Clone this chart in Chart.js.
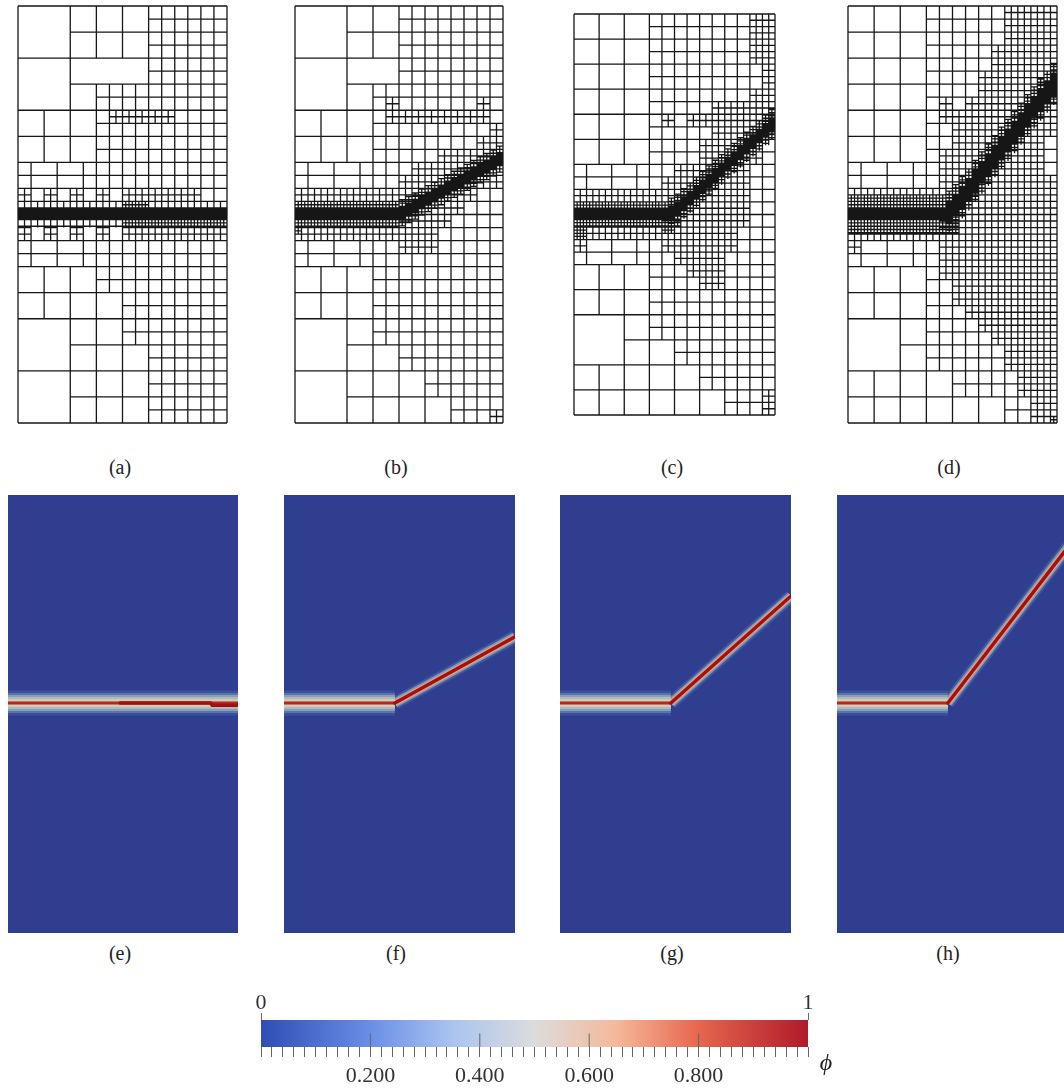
<!DOCTYPE html>
<html>
<head>
<meta charset="utf-8">
<title>Crack phase field meshes</title>
<script src="https://cdn.jsdelivr.net/npm/chart.js@4"></script>
<style>
html, body { margin: 0; padding: 0; background: #fff; }
#page { position: relative; width: 1064px; height: 1091px; overflow: hidden; }
canvas { position: absolute; }
canvas.mesh { filter: blur(0.45px); }
canvas.field { filter: blur(0.7px); }
.cap { position: absolute; font: 20px "Liberation Serif", serif; color: #222; transform: translate(-50%, -50%); }
</style>
</head>
<body>
<div id="page"></div>
<script>
// mesh line families, units are coarse cells: [x0, y0, x1, y1, dx, dy] (dx or dy = 0 means no lines that way)
const meshCommonLeft = [
    [0, 0, 8, 16, 8, 16],
    [0, 2, 8, 2, 0, 1], [0, 4, 8, 4, 0, 1],
    [0, 6, 3, 7, 0, 0.5], [0.5, 6, 2.5, 7, 1, 0],
    [0, 9, 3, 10, 0, 0.5], [0.5, 9, 2.5, 10, 1, 0],
    [0, 10, 3, 12, 1, 1]
];

const meshA = [
    [2, 0, 2, 6, 1, 0], [2, 1, 5, 1, 0, 1], [3, 0, 3, 2, 1, 0], [4, 0, 4, 2, 1, 0], [5, 0, 5, 3, 1, 0],
    [2, 3, 8, 3, 0, 1], [1, 4, 1, 6, 1, 0], [0, 5, 3, 5, 0, 1],
    [5, 0, 8, 6, 0.5, 0.5], [3, 3, 5, 6, 0.5, 0.5], [3.5, 4, 6, 4.5, 0.25, 0.25],
    [3, 6, 8, 7, 0.5, 0.5],
    [0, 7, 0.5, 7.5, 0.25, 0.25], [1, 7, 1.5, 7.5, 0.25, 0.25], [2, 7, 2.5, 7.5, 0.25, 0.25], [3, 7, 3.5, 7.5, 0.25, 0.25],
    [4, 7, 7, 7.5, 0.25, 0.25], [7, 7, 8, 7.5, 0.5, 0.5],
    [0, 7.5, 8, 7.8, 0.25, 0.25], [4, 7.5, 5, 7.75, 0.125, 0.125],
    [0, 7.8, 8, 8.2, 0.03125, 0.03125],
    [0, 8.2, 4, 8.5, 0.25, 0.25], [4, 8.2, 8, 8.5, 0.125, 0.125],
    [0, 8.5, 0.5, 9, 0.25, 0.25], [1, 8.5, 1.5, 9, 0.25, 0.25], [2, 8.5, 2.5, 9, 0.25, 0.25], [3, 8.5, 3.5, 9, 0.25, 0.25],
    [4, 8.5, 8, 9, 0.25, 0.25],
    [3, 9, 8, 10, 0.5, 0.5], [3, 10, 5, 11, 0.5, 0.5], [5, 10, 8, 11, 0.5, 0.5], [4, 11, 8, 13, 0.5, 0.5],
    [0, 12, 8, 12, 0, 1], [2, 12, 2, 16, 1, 0], [3, 12, 3, 16, 1, 0], [4, 12, 4, 16, 1, 0], [5, 13, 5, 16, 1, 0],
    [2, 13, 8, 13, 0, 1], [0, 14, 5, 14, 0, 1], [2, 15, 8, 15, 0, 1],
    [5, 13, 8, 16, 0.5, 0.5]
];

const meshB = [
    [2, 0, 2, 6, 1, 0], [2, 1, 4, 1, 0, 1], [3, 0, 3, 2, 1, 0], [4, 0, 4, 3, 1, 0],
    [2, 3, 8, 3, 0, 1], [1, 4, 1, 6, 1, 0], [0, 5, 3, 5, 0, 1],
    [4, 0, 8, 6, 0.5, 0.5], [3, 3, 4, 6, 0.5, 0.5],
    [3.5, 3.5, 4, 4, 0.25, 0.25], [3.5, 4, 7.5, 4.5, 0.25, 0.25], [7, 3.5, 7.5, 4, 0.25, 0.25],
    [3, 6, 8, 10, 0.5, 0.5],
    [7.5, 4.5, 8, 5, 0.25, 0.25], [7, 5, 8, 5.5, 0.25, 0.25], [5.5, 5.5, 8, 6, 0.25, 0.25],
    [4.5, 6, 8, 6.5, 0.25, 0.25], [4, 6.5, 8, 7, 0.25, 0.25], [4, 7, 7, 7.5, 0.25, 0.25],
    [4, 7.5, 6.5, 8, 0.25, 0.25], [4, 8, 6, 8.5, 0.25, 0.25], [0, 8.5, 5.5, 9, 0.25, 0.25], [4, 9, 5.5, 9.5, 0.25, 0.25],
    [0, 7, 4, 7.5, 0.25, 0.25], [0, 7.5, 4, 7.8, 0.125, 0.125], [0, 7.8, 4, 8.2, 0.03125, 0.03125], [0, 8.2, 4, 8.5, 0.125, 0.125],
    [0, 8.5, 0.25, 8.75, 0.125, 0.125],
    [3, 10, 8, 13, 0.5, 0.5],
    [0, 12, 8, 12, 0, 1], [2, 12, 2, 16, 1, 0], [3, 12, 3, 16, 1, 0], [4, 13, 4, 16, 1, 0],
    [2, 13, 8, 13, 0, 1], [4, 13, 8, 14, 0.5, 0.5], [0, 14, 8, 14, 0, 1],
    [5, 14, 8, 15, 0.5, 0.5], [5, 14, 5, 16, 1, 0], [2, 15, 8, 15, 0, 1],
    [6, 15, 8, 16, 0.5, 0.5], [7.5, 15.5, 8, 16, 0.25, 0.25]
];

const meshC = [
    [0, 0, 3, 6, 1, 1], [3, 0, 7, 6, 0.5, 0.5], [7, 0, 8, 2, 0.25, 0.25], [7, 2, 8, 7, 0.5, 0.5], [7.5, 2, 8, 3, 0.25, 0.25],
    [7, 3, 8, 3.5, 0.25, 0.25], [5.5, 3.5, 8, 4, 0.25, 0.25], [3.5, 4, 4, 4.5, 0.25, 0.25], [4.5, 4, 8, 4.5, 0.25, 0.25],
    [5.5, 4.5, 8, 5, 0.25, 0.25], [5, 5, 7.5, 6, 0.25, 0.25], [4, 6, 7, 6.5, 0.25, 0.25], [3.5, 6.5, 7, 7.5, 0.25, 0.25],
    [3, 6, 8, 10, 0.5, 0.5],
    [0, 7, 3.5, 7.5, 0.25, 0.25], [3.5, 7.5, 7, 8, 0.25, 0.25], [0, 7.5, 4, 7.8, 0.125, 0.125],
    [0, 7.8, 3.9, 8.2, 0.03125, 0.03125], [0, 8.2, 4.25, 8.5, 0.125, 0.125],
    [3.5, 8, 7, 8.5, 0.25, 0.25], [0, 8.5, 6.5, 9, 0.25, 0.25], [0, 8.5, 0.5, 9, 0.125, 0.125], [3.5, 8.5, 4, 8.75, 0.125, 0.125],
    [0, 9, 0.5, 9.5, 0.25, 0.25], [3.5, 9, 6.5, 9.5, 0.25, 0.25], [4, 9.5, 6, 10, 0.25, 0.25],
    [4.5, 10, 6, 10.5, 0.25, 0.25], [5, 10.5, 6, 11, 0.25, 0.25],
    [3, 10, 8, 13, 0.5, 0.5], [0, 12, 8, 12, 0, 1],
    [2, 12, 2, 16, 1, 0], [3, 12, 3, 16, 1, 0], [2, 13, 8, 13, 0, 1], [4, 13, 8, 14, 0.5, 0.5],
    [0, 14, 8, 14, 0, 1], [1, 14, 1, 16, 1, 0], [4, 14, 4, 16, 1, 0], [5, 14.5, 5, 16, 1, 0],
    [5, 14, 8, 15, 0.5, 0.5], [0, 15, 8, 15, 0, 1], [6, 15, 8, 16, 0.5, 0.5], [7.5, 15, 8, 16, 0.25, 0.25]
];

const meshD = [
    [0, 0, 3, 6, 1, 1], [3, 0, 8, 7, 0.5, 0.5],
    [6, 0, 8, 1.5, 0.25, 0.25], [5.5, 1.5, 8, 2.5, 0.25, 0.25], [5, 2.5, 8, 3.5, 0.25, 0.25],
    [3.5, 3.5, 4, 4.5, 0.25, 0.25], [4.5, 3.5, 8, 4, 0.25, 0.25], [4, 4, 8, 5, 0.25, 0.25], [4, 5, 7.5, 5.5, 0.25, 0.25],
    [3.5, 5.5, 7.5, 6.5, 0.25, 0.25], [3.5, 6.5, 8, 10.5, 0.25, 0.25],
    [0, 7, 4, 7.25, 0.25, 0.25], [0, 7.25, 4.25, 7.8, 0.125, 0.125], [0, 7.8, 3.85, 8.2, 0.03125, 0.03125],
    [0, 8.2, 4.25, 8.75, 0.125, 0.125], [0, 8.75, 3.5, 9, 0.25, 0.25], [0, 9, 0.5, 9.5, 0.25, 0.25],
    [3, 9, 3.5, 10, 0.5, 0.5],
    [4, 10.5, 8, 11.5, 0.25, 0.25], [4.5, 11.5, 8, 12, 0.25, 0.25], [5, 12, 8, 12.5, 0.25, 0.25],
    [5.5, 12.5, 8, 13, 0.25, 0.25], [6, 13, 8, 14, 0.25, 0.25], [6.5, 14, 8, 15, 0.25, 0.25], [7, 15, 8, 16, 0.25, 0.25],
    [7.75, 15.75, 8, 16, 0.125, 0.125],
    [3, 10.5, 5, 14, 0.5, 0.5], [5, 12.5, 6, 14, 0.5, 0.5], [4, 14, 6.5, 15, 0.5, 0.5], [6, 15, 7, 16, 0.5, 0.5],
    [0, 12, 8, 12, 0, 1], [2, 12, 2, 16, 1, 0], [3, 12, 3, 16, 1, 0], [2, 13, 3, 13, 0, 1],
    [0, 14, 8, 14, 0, 1], [0, 15, 8, 15, 0, 1], [1, 14, 1, 16, 1, 0], [4, 14, 4, 16, 1, 0], [5, 15, 5, 16, 1, 0], [6, 13, 6, 16, 1, 0]
];

// crack path through the meshes (x, y in coarse cells)
const bandXB = [4, 4.25, 4.5, 4.75, 5, 5.25, 5.5, 5.75, 6, 6.25, 6.5, 6.75, 7, 7.25, 7.5, 7.75, 8];
const bandYB = [8, 7.87, 7.75, 7.6, 7.45, 7.33, 7.2, 7.05, 6.9, 6.78, 6.65, 6.5, 6.35, 6.22, 6.1, 5.95, 5.8];
const bandXC = [3.75, 4, 4.25, 4.5, 4.75, 5, 5.25, 5.5, 5.75, 6, 6.25, 6.5, 6.75, 7, 7.25, 7.5, 7.75, 8];
const bandYC = [8, 7.9, 7.68, 7.45, 7.22, 7, 6.77, 6.55, 6.32, 6.1, 5.87, 5.65, 5.42, 5.2, 4.97, 4.75, 4.52, 4.3];
const bandXD = [3.75, 4, 4.25, 4.5, 4.75, 5, 5.25, 5.5, 5.75, 6, 6.25, 6.5, 6.75, 7, 7.25, 7.5, 7.75, 8];
const bandYD = [8, 7.8, 7.5, 7.2, 6.9, 6.55, 6.25, 5.95, 5.6, 5.3, 5, 4.7, 4.35, 4.05, 3.75, 3.45, 3.15, 2.85];

// phase field crack lines: horizontal part and the grown part
const oldCrackXE = [0, 8];
const oldCrackYE = [7.6, 7.6];
const newCrackXE = [3.9, 7.05, 7.1, 8];
const newCrackYE = [7.6, 7.6, 7.68, 7.68];
const oldCrackX = [0, 3.84];
const oldCrackY = [7.6, 7.6];
const newCrackXF = [3.84, 8];
const newCrackYF = [7.6, 5.18];
const newCrackXG = [3.84, 8];
const newCrackYG = [7.6, 3.69];
const newCrackXH = [3.84, 8];
const newCrackYH = [7.6, 1.9];

// colour bar
const barX = [0, 1];
const barY = [1, 1];
const stopValues = [0, 0.2, 0.35, 0.5, 0.65, 0.8, 1];
const stopColors = ['#2f4db6', '#6a8ee6', '#a9c4f0', '#dcdcdc', '#f5b89a', '#e6664e', '#b01a2a'];
const majorTicks = [0.2, 0.4, 0.6, 0.8];
const endTicks = [0, 1];

const captionsTop = ['(a)', '(b)', '(c)', '(d)'];
const captionsBottom = ['(e)', '(f)', '(g)', '(h)'];

const page = document.getElementById('page');

function addCanvas(x, y, w, h, cls) {
    const c = document.createElement('canvas');
    c.width = w;
    c.height = h;
    c.style.left = x + 'px';
    c.style.top = y + 'px';
    c.style.width = w + 'px';
    c.style.height = h + 'px';
    if (cls) c.className = cls;
    page.appendChild(c);
    return c;
}

function addText(txt, x, y, extra) {
    const d = document.createElement('div');
    d.className = 'cap';
    d.textContent = txt;
    d.style.left = x + 'px';
    d.style.top = y + 'px';
    if (extra) Object.assign(d.style, extra);
    page.appendChild(d);
}

// turn line families into one polyline with gaps
function patchesToPoints(patches) {
    const pts = [];
    const seg = (x0, y0, x1, y1) => {
        pts.push({ x: x0, y: y0 }, { x: x1, y: y1 }, { x: NaN, y: NaN });
    };
    patches.forEach(p => {
        const [x0, y0, x1, y1, dx, dy] = p;
        if (dx > 0) {
            for (let x = x0; x <= x1 + 1e-6; x += dx) seg(x, y0, x, y1);
        }
        if (dy > 0) {
            for (let y = y0; y <= y1 + 1e-6; y += dy) seg(x0, y, x1, y);
        }
    });
    return pts;
}

// dense cells along a crack path: a solid core and a finer-than-background halo
function bandPatches(xs, ys, core, halo) {
    const out = [];
    for (let i = 0; i < xs.length - 1; i++) {
        const yc = (ys[i] + ys[i + 1]) / 2;
        out.push([xs[i], yc - halo, xs[i + 1], yc + halo, 0.125, 0.125]);
        out.push([xs[i], yc - core, xs[i + 1], yc + core, 0.03125, 0.03125]);
    }
    return out;
}

function meshChart(x, y, w, h, patches) {
    const pad = 3;
    const canvas = addCanvas(x - pad, y - pad, w + pad * 2, h + pad * 2, 'mesh');
    new Chart(canvas, {
        type: 'line',
        data: {
            datasets: [{
                data: patchesToPoints(patches),
                borderColor: '#161616',
                borderWidth: 1.3,
                pointRadius: 0,
                spanGaps: false,
                clip: false
            }]
        },
        options: {
            responsive: false,
            animation: false,
            events: [],
            layout: { padding: pad },
            plugins: { legend: { display: false }, tooltip: { enabled: false } },
            scales: {
                x: { type: 'linear', min: 0, max: 8, display: false },
                y: { type: 'linear', min: 0, max: 16, reverse: true, display: false }
            }
        }
    });
}

// fills the plot area with the phi = 0 colour
const fieldBackground = {
    id: 'fieldBackground',
    beforeDatasetsDraw(chart) {
        const a = chart.chartArea;
        chart.ctx.save();
        chart.ctx.fillStyle = '#2f3e8e';
        chart.ctx.fillRect(a.left, a.top, a.width, a.height);
        chart.ctx.restore();
    }
};

const oldWidths = [25, 20, 16, 12, 8, 3];
const oldColors = ['#3b4f9c', '#5873ad', '#85a0b8', '#adbcb6', '#d2c9b8', '#b8261f'];
const newWidths = [13, 9, 6];
const newColors = ['#3f56a0', '#7f9ab4', '#d9a48c'];

function toPoints(xs, ys) {
    return xs.map((v, i) => ({ x: v, y: ys[i] }));
}

function fieldChart(x, y, w, h, oldPts, newPts) {
    const canvas = addCanvas(x, y, w, h, 'field');
    const datasets = [];
    // higher order is painted first: new halo at the back, old band over it, new core on top
    newWidths.forEach((lw, i) => {
        datasets.push({ data: newPts.slice(), borderColor: newColors[i], borderWidth: lw, pointRadius: 0, borderCapStyle: 'butt', borderJoinStyle: 'round', order: 200 - i });
    });
    oldWidths.forEach((lw, i) => {
        datasets.push({ data: oldPts.slice(), borderColor: oldColors[i], borderWidth: lw, pointRadius: 0, borderCapStyle: 'butt', order: 100 - i });
    });
    datasets.push({ data: newPts.slice(), borderColor: '#a5100f', borderWidth: 3.5, pointRadius: 0, borderCapStyle: 'round', borderJoinStyle: 'round', order: 1 });
    new Chart(canvas, {
        type: 'line',
        data: { datasets: datasets },
        options: {
            responsive: false,
            animation: false,
            events: [],
            plugins: { legend: { display: false }, tooltip: { enabled: false } },
            scales: {
                x: { type: 'linear', min: 0, max: 8, display: false },
                y: { type: 'linear', min: 0, max: 16, reverse: true, display: false }
            }
        },
        plugins: [fieldBackground]
    });
}

function colorBar() {
    const left = 230, top = 985, w = 610, h = 106;
    const canvas = addCanvas(left, top, w, h, 'field');
    canvas.style.filter = 'blur(0.4px)';
    const majorPts = [];
    majorTicks.forEach(v => {
        majorPts.push({ x: v, y: 0 }, { x: v, y: 0.5 }, { x: NaN, y: NaN });
    });
    const axisFont = { family: '"Liberation Serif", serif', size: 22 };
    new Chart(canvas, {
        type: 'line',
        data: {
            datasets: [{
                data: majorPts,
                borderColor: '#666',
                borderWidth: 1,
                pointRadius: 0,
                spanGaps: false
            }, {
                data: toPoints(barX, barY),
                borderWidth: 0,
                pointRadius: 0,
                fill: 'origin',
                backgroundColor(ctx) {
                    const a = ctx.chart.chartArea;
                    if (!a) return stopColors[3];
                    const g = ctx.chart.ctx.createLinearGradient(a.left, 0, a.right, 0);
                    stopValues.forEach((v, i) => g.addColorStop(v, stopColors[i]));
                    return g;
                }
            }]
        },
        options: {
            responsive: false,
            animation: false,
            events: [],
            layout: { padding: { left: 31, right: 32, top: 0, bottom: 0 } },
            plugins: { legend: { display: false }, tooltip: { enabled: false }, filler: { propagate: false } },
            scales: {
                x: {
                    type: 'linear',
                    min: 0,
                    max: 1,
                    position: 'bottom',
                    afterFit(s) { s.height = 44; },
                    grid: { drawOnChartArea: false, tickLength: 10, color: '#666' },
                    border: { display: false },
                    ticks: {
                        stepSize: 0.02,
                        autoSkip: false,
                        maxRotation: 0,
                        padding: 6,
                        color: '#333',
                        font: axisFont,
                        callback(v) {
                            const hit = majorTicks.some(m => Math.abs(m - v) < 1e-6);
                            return hit ? v.toFixed(3) : '';
                        }
                    }
                },
                x2: {
                    type: 'linear',
                    min: 0,
                    max: 1,
                    position: 'top',
                    afterFit(s) { s.height = 35; },
                    afterBuildTicks(s) { s.ticks = endTicks.map(v => ({ value: v })); },
                    grid: { drawOnChartArea: false, tickLength: 7, color: '#666' },
                    border: { display: false },
                    ticks: { padding: -3, color: '#333', font: axisFont, maxRotation: 0, callback: v => String(v) }
                },
                y: { type: 'linear', min: 0, max: 1, display: false }
            }
        }
    });
}

meshChart(18, 6, 209, 417, meshCommonLeft.concat(meshA));
meshChart(295, 6, 208, 417, meshCommonLeft.concat(meshB, bandPatches(bandXB, bandYB, 0.22, 0.5)));
meshChart(574, 14, 201, 401, meshCommonLeft.concat(meshC, bandPatches(bandXC, bandYC, 0.26, 0.6)));
meshChart(848, 6, 209, 417, meshCommonLeft.concat(meshD, bandPatches(bandXD, bandYD, 0.42, 0.8)));

fieldChart(8, 495, 230, 438, toPoints(oldCrackXE, oldCrackYE), toPoints(newCrackXE, newCrackYE));
fieldChart(284, 495, 231, 438, toPoints(oldCrackX, oldCrackY), toPoints(newCrackXF, newCrackYF));
fieldChart(560, 495, 231, 438, toPoints(oldCrackX, oldCrackY), toPoints(newCrackXG, newCrackYG));
fieldChart(837, 495, 231, 438, toPoints(oldCrackX, oldCrackY), toPoints(newCrackXH, newCrackYH));

colorBar();

[120, 396, 672, 949].forEach((x, i) => addText(captionsTop[i], x, 467));
[120, 396, 672, 948].forEach((x, i) => addText(captionsBottom[i], x, 953));
addText('ϕ', 826, 1062, { fontStyle: 'italic', fontSize: '24px' });
</script>
</body>
</html>
